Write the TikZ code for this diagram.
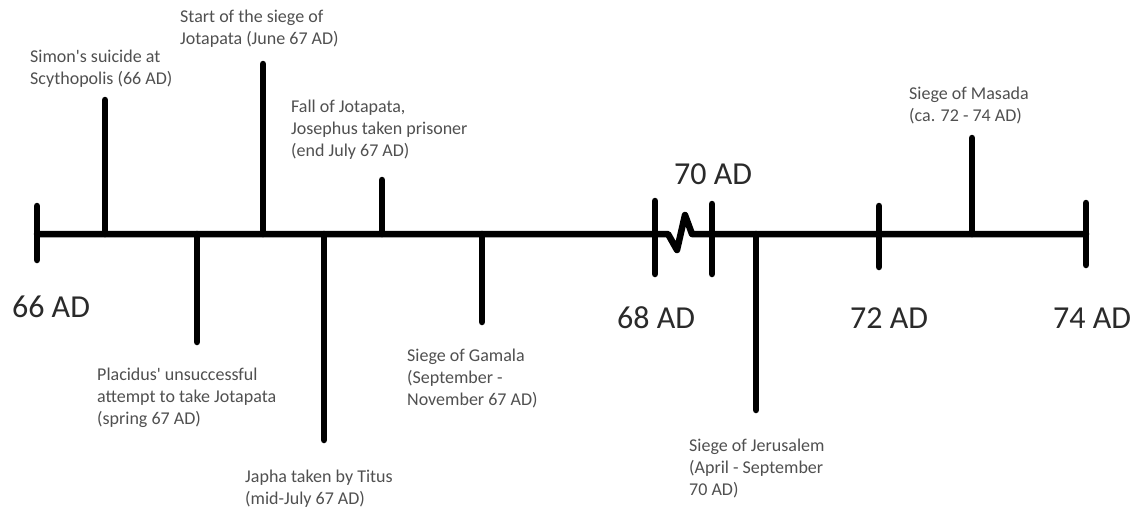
\documentclass[tikz,border=0pt]{standalone}
\usepackage{fontspec}
\setmainfont{Carlito}
\definecolor{evgray}{HTML}{505050}
\definecolor{yrgray}{HTML}{2A2A2A}
\begin{document}
\begin{tikzpicture}[x=1pt,y=-1pt,
  bar/.style={line width=6.5pt, line cap=round, line join=round, black},
  event/.style={font=\fontsize{18}{22}\selectfont, text=evgray, align=left, anchor=north west, inner sep=0pt},
  year/.style={font=\fontsize{32}{38}\selectfont, text=yrgray, inner sep=0pt}]
\useasboundingbox (0,0) rectangle (1137,512);
\fill[white] (0,0) rectangle (1137,512);
% axis with break
\coordinate (a0) at (37,234);
\coordinate (z1) at (668,234);
\coordinate (z2) at (677,250);
\coordinate (z3) at (685,215);
\coordinate (z4) at (692,234);
\coordinate (a1) at (1086,234);
\draw[bar] (a0) -- (z1) -- (z2) -- (z3) -- (z4) -- (a1);
% year ticks
\draw[bar] (37,206) -- (37,260);
\draw[bar] (655,201) -- (655,274);
\draw[bar] (712,204) -- (712,274);
\draw[bar] (879,206) -- (879,267);
\draw[bar] (1086,203) -- (1086,265);
% event ticks
\draw[bar] (105,100) -- (105,234);
\draw[bar] (197,234) -- (197,342);
\draw[bar] (263,64) -- (263,234);
\draw[bar] (324,234) -- (324,440);
\draw[bar] (382,180) -- (382,234);
\draw[bar] (482,234) -- (482,322);
\draw[bar] (756,234) -- (756,410);
\draw[bar] (972,138) -- (972,234);
% year labels
\node[year] (y66) at (51,307) {66 AD};
\node[year] (y68) at (656,318) {68 AD};
\node[year] (y70) at (713,174) {70 AD};
\node[year] (y72) at (889,318) {72 AD};
\node[year] (y74) at (1092,318) {74 AD};
% event labels
\node[event] (simon) at (30,49.5) {Simon\textquotesingle s suicide at\\Scythopolis (66 AD)};
\node[event] (start) at (180,9.5) {Start of the siege of\\Jotapata (June 67 AD)};
\node[event] (fall) at (291,99.5) {Fall of Jotapata,\\Josephus taken prisoner\\(end July 67 AD)};
\node[event] (placidus) at (97,367.5) {Placidus\textquotesingle{} unsuccessful\\attempt to take Jotapata\\(spring 67 AD)};
\node[event] (japha) at (245,469.5) {Japha taken by Titus\\(mid-July 67 AD)};
\node[event] (gamala) at (407,348.5) {Siege of Gamala\\(September -\\November 67 AD)};
\node[event] (jerusalem) at (689,438.5) {Siege of Jerusalem\\(April - September\\70 AD)};
\node[event] (masada) at (909,86.5) {Siege of Masada\\(ca. 72 - 74 AD)};
\end{tikzpicture}
\end{document}
